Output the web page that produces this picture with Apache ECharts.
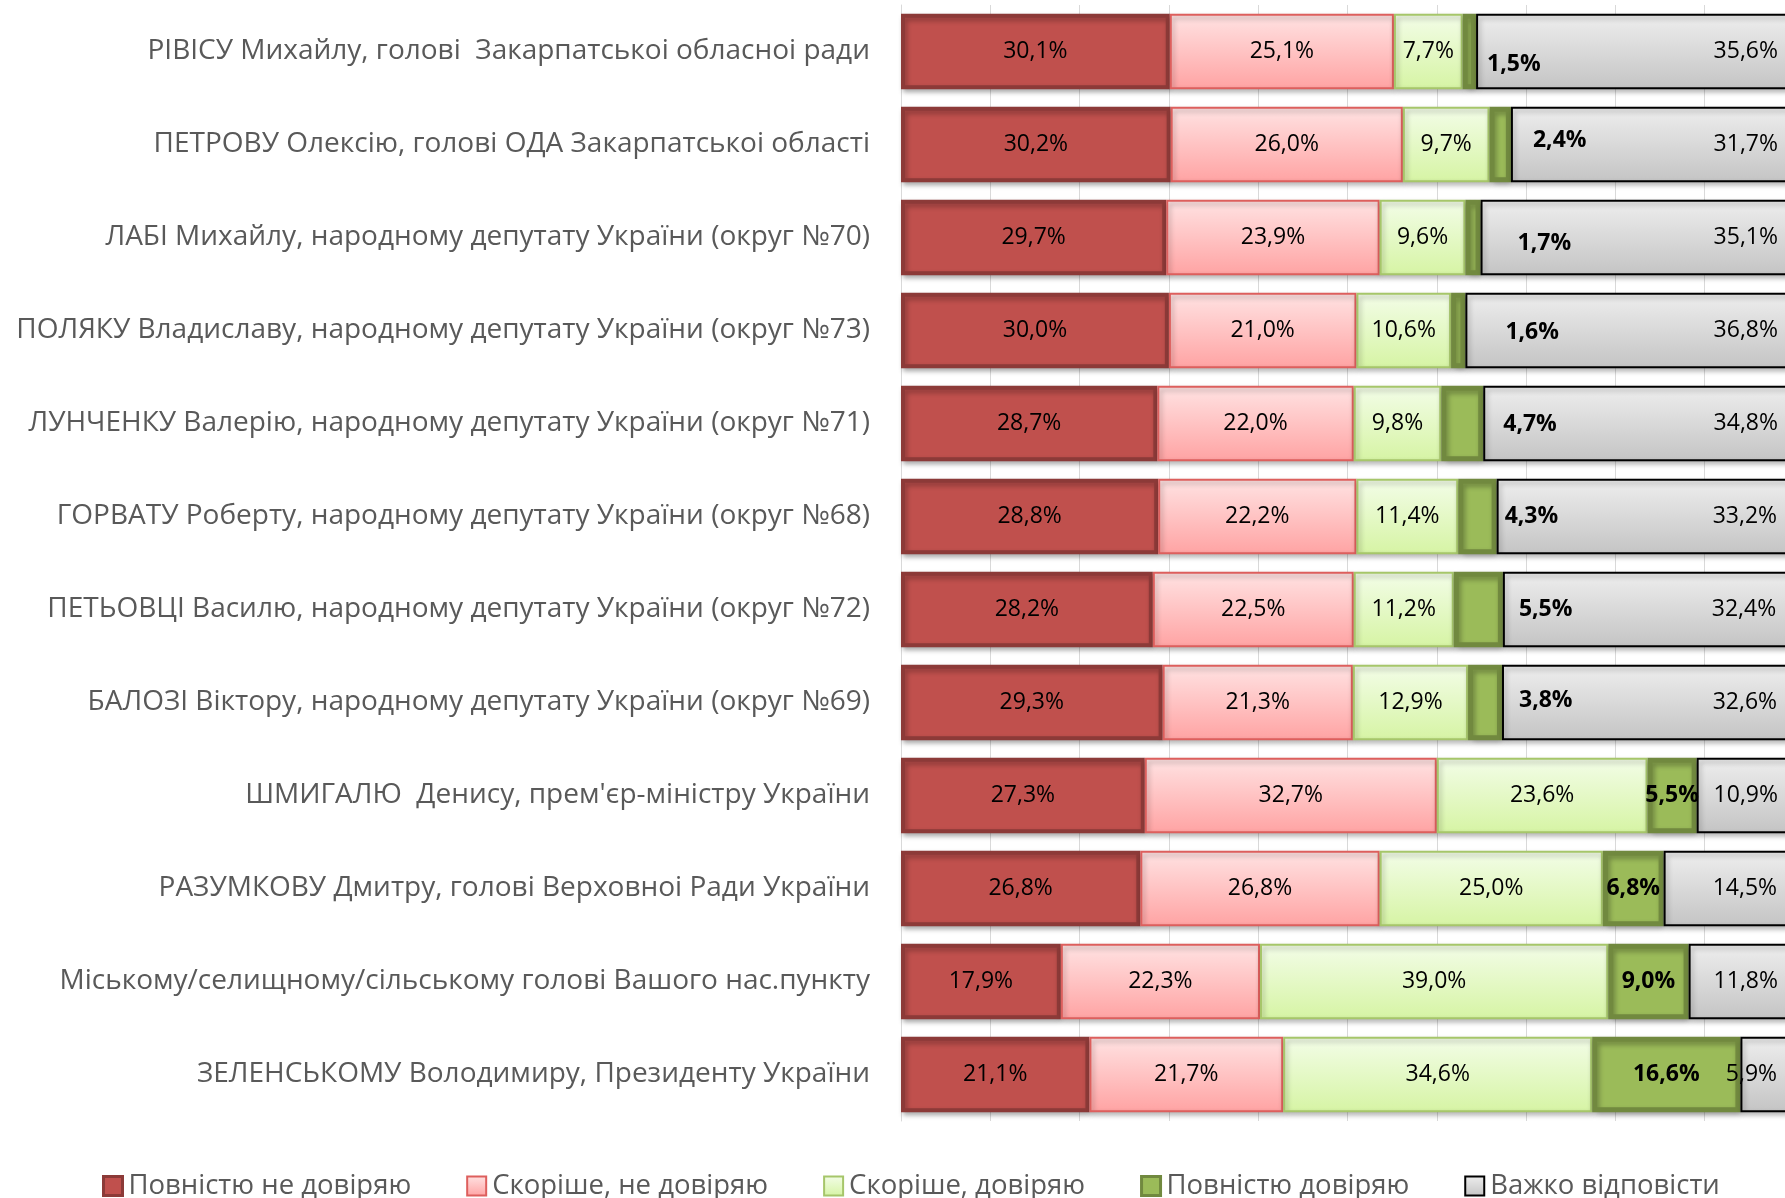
<!DOCTYPE html>
<html>
<head>
<meta charset="utf-8">
<script src="https://cdn.jsdelivr.net/npm/echarts@6/dist/echarts.min.js"></script>
<style>html,body{margin:0;padding:0;background:#fff}#c{width:1785px;height:1198px}</style>
</head>
<body>
<div id="c"></div>
<script>
const categories = [
  "РІВІСУ Михайлу, голові  Закарпатськоі обласноі ради",
  "ПЕТРОВУ Олексію, голові ОДА Закарпатськоі області",
  "ЛАБІ Михайлу, народному депутату України (округ №70)",
  "ПОЛЯКУ Владиславу, народному депутату України (округ №73)",
  "ЛУНЧЕНКУ Валерію, народному депутату України (округ №71)",
  "ГОРВАТУ Роберту, народному депутату України (округ №68)",
  "ПЕТЬОВЦІ Василю, народному депутату України (округ №72)",
  "БАЛОЗІ Віктору, народному депутату України (округ №69)",
  "ШМИГАЛЮ  Денису, прем'єр-міністру України",
  "РАЗУМКОВУ Дмитру, голові Верховноі Ради України",
  "Міському/селищному/сільському голові Вашого нас.пункту",
  "ЗЕЛЕНСЬКОМУ Володимиру, Президенту України"
];
const seriesNames = ["Повністю не довіряю", "Скоріше, не довіряю", "Скоріше, довіряю", "Повністю довіряю", "Важко відповісти"];
const fullyDistrust   = [30.1, 30.2, 29.7, 30.0, 28.7, 28.8, 28.2, 29.3, 27.3, 26.8, 17.9, 21.1];
const ratherDistrust  = [25.1, 26.0, 23.9, 21.0, 22.0, 22.2, 22.5, 21.3, 32.7, 26.8, 22.3, 21.7];
const ratherTrust     = [7.7, 9.7, 9.6, 10.6, 9.8, 11.4, 11.2, 12.9, 23.6, 25.0, 39.0, 34.6];
const fullyTrust      = [1.5, 2.4, 1.7, 1.6, 4.7, 4.3, 5.5, 3.8, 5.5, 6.8, 9.0, 16.6];
const hardToSay       = [35.6, 31.7, 35.1, 36.8, 34.8, 33.2, 32.4, 32.6, 10.9, 14.5, 11.8, 5.9];

const fmt = p => p.value.toFixed(1).replace('.', ',') + '%';
const FONT = '"Open Sans", "Noto Sans", sans-serif';
const grad = (a, b) => new echarts.graphic.LinearGradient(0, 0, 0, 1, [{offset: 0, color: a}, {offset: 1, color: b}]);
const shadow = {shadowColor: 'rgba(0,0,0,0.30)', shadowBlur: 5, shadowOffsetX: 2, shadowOffsetY: 3};

// label placement for "Повністю довіряю" (styling only)
const trustLabelPlacement = [
  {position: 'right', distance: 11, offset: [0, 13]},
  {position: 'right', distance: 22, offset: [0, -4]},
  {position: 'right', distance: 37, offset: [0, 6]},
  {position: 'right', distance: 40, offset: [0, 2]},
  {position: 'right', distance: 20, offset: [0, 1]},
  {position: 'right', distance: 8, offset: [0, 0]},
  {position: 'right', distance: 16, offset: [0, 0]},
  {position: 'right', distance: 17, offset: [0, -2]},
  {position: 'inside'}, {position: 'inside'}, {position: 'inside'}, {position: 'inside'}
];

const baseLabel = {show: true, formatter: fmt, color: '#000', fontFamily: FONT, fontSize: 23};

const styles = [
  {color: '#C0504D', borderColor: '#8C3A38', borderWidth: 4},
  {color: grad('#FFE3E3', '#FFA3A3'), borderColor: '#DD5F5D', borderWidth: 2},
  {color: grad('#F3FDE8', '#D6F4A4'), borderColor: '#A6C66A', borderWidth: 2},
  {color: '#9BBB59', borderColor: '#71893F', borderWidth: 5},
  {color: grad('#EEEEEE', '#C4C4C4'), borderColor: '#000000', borderWidth: 2}
];
const legendIconStyles = [
  {color: '#C0504D', borderColor: '#8C3A38', borderWidth: 3},
  {color: grad('#FFE3E3', '#FFA3A3'), borderColor: '#DD5F5D', borderWidth: 2},
  {color: grad('#F3FDE8', '#D6F4A4'), borderColor: '#A6C66A', borderWidth: 2},
  {color: '#9BBB59', borderColor: '#71893F', borderWidth: 3},
  {color: grad('#EEEEEE', '#C4C4C4'), borderColor: '#000000', borderWidth: 2}
];

const values = [fullyDistrust, ratherDistrust, ratherTrust, fullyTrust, hardToSay];

const series = values.map((arr, i) => {
  const s = {
    name: seriesNames[i],
    type: 'bar',
    stack: 'total',
    barCategoryGap: '19%',
    itemStyle: Object.assign({}, styles[i], shadow),
    label: Object.assign({}, baseLabel, {position: 'inside'}),
    emphasis: {disabled: true},
    data: arr.slice()
  };
  if (i === 3) {
    s.label.fontWeight = 'bold';
    s.data = arr.map((v, k) => ({value: v, label: trustLabelPlacement[k]}));
  }
  if (i === 4) {
    s.label.position = 'insideRight';
    s.label.distance = 16;
  }
  return s;
});

const chart = echarts.init(document.getElementById('c'), null, {renderer: 'canvas'});
chart.setOption({
  animation: false,
  backgroundColor: '#fff',
  grid: {left: 901, top: 5, width: 893, height: 1116, containLabel: false, outerBoundsMode: 'none'},
  legend: {
    left: 97, top: 1167,
    itemWidth: 19, itemHeight: 19, itemGap: 55,
    textStyle: {fontFamily: FONT, fontSize: 27.5, color: '#595959', padding: [0, 0, 0, 1]},
    data: seriesNames.map((n, i) => ({name: n, icon: 'rect', itemStyle: legendIconStyles[i]}))
  },
  xAxis: {
    type: 'value', min: 0, max: 100, interval: 10,
    axisLabel: {show: false}, axisLine: {show: false}, axisTick: {show: false},
    splitLine: {show: true, lineStyle: {color: '#D9D9D9', width: 1}}
  },
  yAxis: {
    type: 'category', inverse: true, data: categories,
    axisLine: {show: true, lineStyle: {color: '#D9D9D9'}},
    axisTick: {show: false},
    axisLabel: {margin: 31, fontFamily: FONT, fontSize: 28, color: '#595959'}
  },
  series: series
});
</script>
</body>
</html>
